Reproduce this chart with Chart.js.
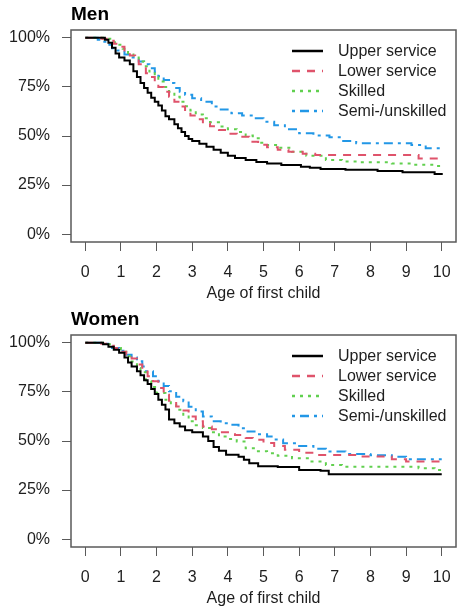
<!DOCTYPE html>
<html>
<head>
<meta charset="utf-8">
<script src="https://cdn.jsdelivr.net/npm/chart.js@4.4.1/dist/chart.umd.min.js"></script>
<style>
html, body { margin: 0; padding: 0; background: #ffffff; }
.panel { position: absolute; left: 0; width: 460px; height: 305px; }
</style>
</head>
<body>
<div class="panel" style="top:0px"><canvas id="menChart" width="460" height="305"></canvas></div>
<div class="panel" style="top:305px"><canvas id="womenChart" width="460" height="305"></canvas></div>
<script>
// ---------- Tick labels / categories ----------
const xTicks = [0, 1, 2, 3, 4, 5, 6, 7, 8, 9, 10];
const yTicks = [0, 25, 50, 75, 100];
const seriesNames = ['Upper service', 'Lower service', 'Skilled', 'Semi-/unskilled'];
const panelTitles = ['Men', 'Women'];
const xAxisTitle = 'Age of first child';

// ---------- Men: survival (% without a second child) by age of first child ----------
const menUpperT = [0, 0.55, 0.65, 0.75, 0.85, 0.95, 1.1, 1.25, 1.35, 1.45, 1.55, 1.65, 1.75, 1.85, 1.95, 2.05, 2.15, 2.25, 2.35, 2.5, 2.6, 2.7, 2.8, 2.9, 3.0, 3.2, 3.4, 3.6, 3.8, 4.0, 4.2, 4.5, 4.8, 5.1, 5.5, 6.05, 6.3, 6.6, 7.3, 8.2, 8.9, 9.8, 10];
const menUpperS = [100, 99, 97.5, 95, 92, 90, 88.5, 86.5, 83, 80, 77, 74.5, 72, 69.5, 67.5, 65.5, 63, 60, 58.5, 56, 54, 52, 50, 48.5, 47.5, 46, 44.5, 43, 41.5, 40, 38.8, 37.8, 36.8, 36, 35.2, 34.3, 33.8, 33.2, 32.8, 32.2, 31.5, 30.6, 30.1];

const menLowerT = [0, 0.45, 0.6, 0.8, 0.95, 1.1, 1.25, 1.4, 1.5, 1.6, 1.7, 1.8, 1.95, 2.05, 2.2, 2.35, 2.5, 2.65, 2.8, 2.95, 3.1, 3.3, 3.5, 3.75, 4.0, 4.25, 4.6, 4.85, 5.1, 5.4, 5.7, 6.1, 6.45, 9.35, 10];
const menLowerS = [100, 99.5, 98.5, 97, 95.5, 93.5, 91, 88.5, 86.5, 84.5, 82, 80, 77.5, 75, 72.5, 70, 67.5, 65, 62.5, 60.5, 58.5, 56.5, 55, 53, 51.2, 49.6, 47.1, 45.5, 44.3, 43, 42, 41, 40.3, 38.6, 38.6];

const menSkilledT = [0, 0.5, 0.75, 0.9, 1.05, 1.2, 1.35, 1.5, 1.65, 1.8, 1.95, 2.05, 2.2, 2.35, 2.5, 2.65, 2.8, 2.95, 3.1, 3.3, 3.5, 3.75, 4.0, 4.25, 4.5, 4.7, 4.9, 5.1, 5.4, 5.8, 6.2, 6.75, 7.2, 7.7, 8.6, 9.2, 9.8, 10];
const menSkilledS = [100, 99.5, 97.8, 96.5, 94.5, 91.5, 90, 88, 85.5, 82.8, 80, 77.8, 75, 72.6, 70, 67.5, 65.2, 63, 61, 59, 57, 54.8, 53.5, 52, 50.2, 48.8, 46.5, 45.4, 44, 42, 40, 37.8, 37, 36.6, 36, 35.3, 34.7, 34.7];

const menSemiT = [0, 0.35, 0.45, 0.6, 0.75, 0.9, 1.1, 1.3, 1.5, 1.65, 1.8, 1.95, 2.05, 2.2, 2.35, 2.5, 2.65, 2.8, 3.0, 3.25, 3.55, 3.8, 4.1, 4.4, 4.7, 5.0, 5.3, 5.6, 6.0, 6.4, 6.85, 7.2, 7.6, 9.15, 9.55, 10];
const menSemiS = [100, 99, 98, 96.5, 94.7, 93.5, 91.5, 90, 88, 86.5, 84.5, 82.5, 80.5, 78.5, 77, 74.5, 72.5, 71, 69.2, 67.5, 65, 63.5, 61.6, 60.5, 59, 57.3, 55.5, 53.5, 51.4, 50.3, 49.3, 47.5, 46.3, 45.4, 43.7, 43.7];

// ---------- Women ----------
const womenUpperT = [0, 0.5, 0.65, 0.8, 0.95, 1.1, 1.2, 1.3, 1.45, 1.55, 1.65, 1.75, 1.85, 1.95, 2.05, 2.15, 2.25, 2.35, 2.5, 2.65, 2.8, 3.0, 3.3, 3.45, 3.6, 3.75, 3.95, 4.3, 4.45, 4.6, 4.85, 5.4, 6.0, 6.6, 6.83, 10];
const womenUpperS = [100, 99.3, 98, 96.5, 95, 92.5, 90, 88, 85.5, 83.5, 81, 79, 76.5, 74, 71, 68.5, 66, 61, 59, 57.4, 55.5, 54.5, 52.3, 50, 47, 45, 43, 42, 40.5, 38.7, 37.2, 36.8, 35.2, 34.8, 33, 33];

const womenLowerT = [0, 0.45, 0.65, 0.8, 1.0, 1.15, 1.3, 1.45, 1.6, 1.75, 1.9, 2.05, 2.2, 2.35, 2.55, 2.7, 2.9, 3.1, 3.3, 3.55, 3.8, 4.2, 4.5, 4.7, 5.0, 5.3, 5.6, 6.0, 6.45, 7.6, 8.6, 9.0, 10];
const womenLowerS = [100, 99.5, 98.5, 97.4, 95.5, 94, 92, 89, 86, 83, 80.4, 77, 73.5, 70.5, 67.6, 65.5, 62.5, 60, 57.4, 56, 54.5, 53.1, 51.5, 50.6, 49, 47.5, 45.5, 44, 42.9, 42.1, 40.7, 39.5, 39.5];

const womenSkilledT = [0, 0.5, 0.8, 1.0, 1.15, 1.3, 1.45, 1.55, 1.7, 1.85, 2.0, 2.25, 2.4, 2.55, 2.75, 2.9, 3.1, 3.3, 3.5, 3.75, 4.0, 4.25, 4.5, 4.8, 5.1, 5.4, 5.8, 6.3, 6.75, 7.2, 9.35, 9.8, 10];
const womenSkilledS = [100, 99.3, 97.4, 95.5, 93.2, 90.5, 87.2, 85, 80.4, 77.5, 74.5, 71, 68.5, 65.9, 62.5, 60, 58, 56.6, 54.5, 52.3, 51, 49.7, 46.3, 44.8, 43.8, 42.5, 41.2, 39.5, 37.8, 36.9, 36.1, 35.2, 34.9];

const womenSemiT = [0, 0.45, 0.75, 0.95, 1.15, 1.3, 1.45, 1.6, 1.7, 1.9, 2.05, 2.2, 2.35, 2.55, 2.75, 2.9, 3.1, 3.3, 3.55, 3.8, 4.05, 4.3, 4.5, 4.8, 5.1, 5.3, 5.55, 6.0, 6.4, 6.75, 7.3, 8.0, 8.6, 9.0, 10];
const womenSemiS = [100, 99.5, 97.4, 96, 94, 92.5, 90.6, 88, 85.5, 83, 80.4, 78, 75.3, 72.5, 70.2, 67.5, 65, 62.5, 60, 59, 58.3, 56.5, 54.8, 53.5, 52.3, 50.8, 48.9, 47.5, 46, 44.6, 43.4, 42.8, 42, 40.7, 40.7];

// ---------- Styling ----------
const seriesColors = ['#000000', '#DF536B', '#61D04F', '#2297E6'];
const seriesDashes = [[], [8, 7], [3, 5], [3, 5, 9, 5]];
const FONT = "'Liberation Sans', Arial, Helvetica, sans-serif";
const TEXT = '#1e1e1e';
const FRAME = '#5a5a5a';

Chart.defaults.font.family = FONT;

function toPoints(ts, ss) {
  return ts.map((t, i) => ({ x: t, y: ss[i] }));
}

const framePlugin = {
  id: 'frame',
  afterDraw(chart) {
    const { ctx, chartArea: a } = chart;
    ctx.save();
    ctx.strokeStyle = FRAME;
    ctx.lineWidth = 1.5;
    ctx.strokeRect(a.left, a.top, a.right - a.left, a.bottom - a.top);
    ctx.restore();
  }
};

const legendPlugin = {
  id: 'kmLegend',
  afterDraw(chart) {
    const { ctx, chartArea: a } = chart;
    ctx.save();
    chart.data.datasets.forEach((ds, i) => {
      const y = a.top + 21 + i * 20;
      const x0 = a.right - 164;
      ctx.strokeStyle = ds.borderColor;
      ctx.lineWidth = 2.5;
      ctx.setLineDash(ds.borderDash || []);
      ctx.beginPath();
      ctx.moveTo(x0, y);
      ctx.lineTo(x0 + 31, y);
      ctx.stroke();
      ctx.setLineDash([]);
      ctx.fillStyle = TEXT;
      ctx.font = '16px ' + FONT;
      ctx.textBaseline = 'middle';
      ctx.textAlign = 'left';
      ctx.fillText(ds.label, x0 + 46, y + 1);
    });
    ctx.restore();
  }
};

function makeChart(id, title, seriesT, seriesS) {
  const datasets = seriesNames.map((name, i) => ({
    label: name,
    data: toPoints(seriesT[i], seriesS[i]),
    borderColor: seriesColors[i],
    borderWidth: 2,
    borderDash: seriesDashes[i],
    borderCapStyle: 'butt',
    stepped: true,
    fill: false,
    pointRadius: 0,
    tension: 0
  }));
  return new Chart(document.getElementById(id), {
    type: 'line',
    data: { datasets },
    plugins: [framePlugin, legendPlugin],
    options: {
      responsive: false,
      animation: false,
      events: [],
      layout: { padding: { left: 0, right: 4, top: 0, bottom: 0 } },
      plugins: {
        legend: { display: false },
        tooltip: { enabled: false },
        title: {
          display: true,
          text: title,
          align: 'start',
          fullSize: false,
          color: '#000',
          font: { size: 19, weight: 'bold', family: FONT },
          padding: { top: 3, bottom: 4.2 }
        }
      },
      scales: {
        x: {
          type: 'linear',
          min: -0.4,
          max: 10.4,
          afterBuildTicks: s => { s.ticks = xTicks.map(v => ({ value: v })); },
          afterFit: s => { s.height = 63; s.paddingLeft = 0; s.paddingRight = 0; },
          border: { display: false },
          grid: { drawOnChartArea: false, drawTicks: true, tickLength: 9, color: FRAME, lineWidth: 1 },
          ticks: {
            color: TEXT,
            font: { size: 16 },
            padding: 12,
            autoSkip: false,
            maxRotation: 0,
            callback: v => String(v)
          },
          title: {
            display: true,
            text: xAxisTitle,
            color: TEXT,
            font: { size: 16 },
            padding: { top: 2, bottom: 2 }
          }
        },
        y: {
          type: 'linear',
          min: -4,
          max: 104,
          afterBuildTicks: s => { s.ticks = yTicks.map(v => ({ value: v })); },
          afterFit: s => { s.width = 71; s.paddingTop = 0; s.paddingBottom = 0; },
          border: { display: false },
          grid: { drawOnChartArea: false, drawTicks: true, tickLength: 9, color: FRAME, lineWidth: 1 },
          ticks: {
            color: TEXT,
            font: { size: 16 },
            padding: 12,
            callback: v => v + '%'
          }
        }
      }
    }
  });
}

makeChart('menChart', panelTitles[0],
  [menUpperT, menLowerT, menSkilledT, menSemiT],
  [menUpperS, menLowerS, menSkilledS, menSemiS]);

makeChart('womenChart', panelTitles[1],
  [womenUpperT, womenLowerT, womenSkilledT, womenSemiT],
  [womenUpperS, womenLowerS, womenSkilledS, womenSemiS]);
</script>
</body>
</html>
